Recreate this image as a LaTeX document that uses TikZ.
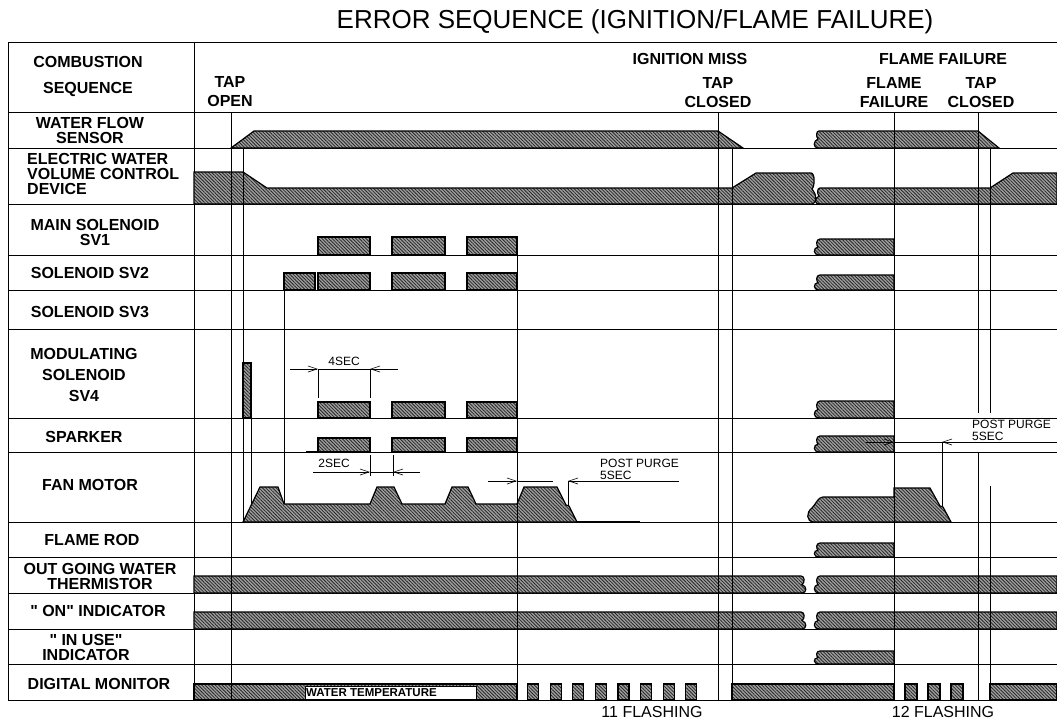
\documentclass[tikz,border=0pt]{standalone}
\usepackage{fontspec}
\setmainfont{Liberation Sans}
\usetikzlibrary{arrows.meta,patterns.meta}
\newcommand\brkL[4]{\draw[sig] ({#1+3},#4) .. controls ({#1-3},#4) and ({#1-3},{#4-0.45*(#4-#2)}) .. ({#1+2},{(#2+#4)/2}) .. controls ({#1},{#4-0.6*(#4-#2)}) and ({#1},#2) .. ({#1+4},#2) -- (#3,#2) -- (#3,#4) -- cycle;}
\newcommand\brkR[4]{\draw[sig] (#1,#2) -- ({#3-3},#2) .. controls ({#3+1},#2) and ({#3+1},{#2+0.4*(#4-#2)}) .. ({#3-2},{(#2+#4)/2}) .. controls ({#3+3},{#2+0.6*(#4-#2)}) and ({#3+3},#4) .. ({#3-2},#4) -- (#1,#4) -- cycle;}
\tikzset{
  grid/.style={line width=0.6pt},
  sig/.style={draw,line width=1.2pt,preaction={fill=black!38},pattern={Lines[angle=-45,distance=2.4pt,line width=0.8pt]},pattern color=black!85},
  lbl/.style={font=\bfseries\fontsize{16}{15}\selectfont,align=center,inner sep=0pt},
  hdr/.style={font=\bfseries\fontsize{16}{19}\selectfont,align=center,inner sep=0pt},
  note/.style={font=\fontsize{12}{12.5}\selectfont,align=left,inner sep=0pt},
  arr/.style={-{Straight Barb[length=9pt,width=6pt]},line width=0.6pt}}
\begin{document}
\begin{tikzpicture}[x=1pt,y=-1pt]
\useasboundingbox (0,0) rectangle (1057,721);
\node[font=\fontsize{26}{26}\selectfont,inner sep=0pt] (title) at (635,22) {ERROR SEQUENCE (IGNITION/FLAME FAILURE)};
\draw[grid] (8,42) -- (1057,42);
\draw[grid] (8,42) -- (8,700) -- (1057,700);
\draw[grid] (194,42) -- (194,700);
\foreach \y in {112,148,204,255,290,329,418,452,522,557,593,629,664}
  \draw[grid] (8,\y) -- (1057,\y);
\node[lbl] (comb) at (88,76) {COMBUSTION\\[11pt]SEQUENCE};
\node[lbl] (wfs) at (90,130) {WATER FLOW\\SENSOR};
\node[lbl,anchor=west,align=left] (ewv) at (27,174) {ELECTRIC WATER\\VOLUME CONTROL\\DEVICE};
\node[lbl] (sv1) at (95,232) {MAIN SOLENOID\\SV1};
\node[lbl] (sv2) at (90,273) {SOLENOID SV2};
\node[lbl] (sv3) at (90,312) {SOLENOID SV3};
\node[lbl] (sv4) at (84,375) {MODULATING\\[6pt]SOLENOID\\[6pt]SV4};
\node[lbl] (spark) at (84,437) {SPARKER};
\node[lbl] (fan) at (90,485) {FAN MOTOR};
\node[lbl] (rod) at (92,540) {FLAME ROD};
\node[lbl] (therm) at (100,576) {OUT GOING WATER\\THERMISTOR};
\node[lbl] (on) at (98,611) {\textquotedbl\ ON\textquotedbl\ INDICATOR};
\node[lbl] (inuse) at (86,647) {\textquotedbl\ IN USE\textquotedbl\\INDICATOR};
\node[lbl] (dig) at (99,684) {DIGITAL MONITOR};
\node[hdr] (tapopen) at (230,92) {TAP\\OPEN};
\node[hdr] (ignmiss) at (690,59) {IGNITION MISS};
\node[hdr] (tapcl) at (718,93) {TAP\\CLOSED};
\node[hdr] (flfail) at (943,59) {FLAME FAILURE};
\node[hdr] (ffail) at (894,93) {FLAME\\FAILURE};
\node[hdr] (tapcl2) at (981,93) {TAP\\CLOSED};
% water flow sensor, water volume device
\draw[sig] (231,148) -- (254,131) -- (718,131) -- (743,148) -- cycle;
\draw[sig] (818,148) .. controls (813,148) and (813,141) .. (818,139) .. controls (816,137) and (816,131) .. (819,131) -- (978,131) -- (999,148) -- cycle;
\draw[sig] (194,172) -- (243,172) -- (267,188) -- (732,188) -- (756,173) -- (811,173) .. controls (815,173) and (815,186) .. (812,189) .. controls (817,194) and (817,204) .. (812,204) -- (194,204) -- cycle;
\draw[sig] (820,204) .. controls (814,204) and (814,199) .. (819,196) .. controls (817,194) and (817,188) .. (820,188) -- (990,188) -- (1013,173) -- (1057,173) -- (1057,204) -- cycle;
% solenoids and sparker
\foreach \x/\w in {318/52,392/53,467/50} {
  \draw[sig] (\x,237) rectangle ++(\w,18);
  \draw[sig] (\x,273) rectangle ++(\w,17);
  \draw[sig] (\x,402) rectangle ++(\w,16);
  \draw[sig] (\x,438) rectangle ++(\w,14);
}
\draw[sig] (284,273) rectangle (315,290);
\draw[sig] (243,363) rectangle (251,418);
\brkL{816}{239}{894}{255}
\brkL{816}{275}{894}{290}
\brkL{816}{401}{894}{418}
\brkL{816}{436}{894}{452}
\brkL{816}{543}{894}{557}
\brkL{816}{651}{894}{664}
% fan motor
\draw[sig] (243,522) -- (260,487) -- (278,487) -- (284,504) -- (370,504) -- (377,487) -- (394,487) -- (402,504) -- (445,504) -- (452,487) -- (468,487) -- (476,504) -- (517,504) -- (524,487) -- (557,487) -- (566,505) -- (569,506) -- (577,522) -- cycle;
\draw[line width=1.2pt] (577,522) -- (640,522) (306,452) -- (318,452);
\draw[sig] (814,522) .. controls (806,522) and (806,512) .. (812,508) .. controls (816,504) and (818,497) .. (823,497) -- (894,497) -- (894,488) -- (930,488) -- (940,506) -- (943,507) -- (951,522) -- cycle;
% thermistor, indicators
\brkR{194}{576}{804}{593}
\brkL{816}{576}{1057}{593}
\brkR{194}{612}{804}{629}
\brkL{816}{612}{1057}{629}
% digital monitor
\draw[sig] (194,684) rectangle (517,700);
\draw[fill=white,line width=1pt] (305,686) rectangle (476,699);
\node[anchor=west,font=\bfseries\fontsize{11.5}{11.5}\selectfont,inner sep=0pt] (wtemp) at (306,692.5) {WATER TEMPERATURE};
\foreach \i in {0,...,7}
  \draw[sig] ({527.5+22.6*\i},684) rectangle ++(11,16);
\draw[sig] (732,684) rectangle (894,700);
\foreach \x in {905,928,951}
  \draw[sig] (\x,684) rectangle ++(12,16);
\draw[sig] (990,684) rectangle (1057,700);
\node[font=\fontsize{16}{16}\selectfont,inner sep=0pt] (fl11) at (652,712) {11 FLASHING};
\node[font=\fontsize{16}{16}\selectfont,inner sep=0pt] (fl12) at (943,712) {12 FLASHING};
% time lines
\draw[grid] (231,112) -- (231,700);
\draw[grid] (243,148) -- (243,522);
\draw[grid] (251,418) -- (251,505);
\draw[grid] (284,290) -- (284,504);
\draw[grid] (517,237) -- (517,700);
\draw[grid] (718,112) -- (718,700);
\draw[grid] (732,148) -- (732,700);
\draw[grid] (894,112) -- (894,700);
\draw[grid] (978,112) -- (978,413) (978,453) -- (978,700);
\draw[grid] (990,148) -- (990,413) (990,486) -- (990,700);
% dimensions
\draw[grid] (318,369) -- (318,398) (370,369) -- (370,398) (318,369) -- (370,369);
\draw[arr] (290,369) -- (318,369);
\draw[arr] (398,369) -- (370,369);
\node[note] (t4) at (344,361) {4SEC};
\draw[grid] (370,455) -- (370,476) (393,455) -- (393,476) (370,472) -- (393,472);
\draw[arr] (313,472) -- (370,472);
\draw[arr] (420,472) -- (393,472);
\node[note] (t2) at (334,463) {2SEC};
\draw[arr] (488,481) -- (517,481);
\draw[grid] (517,481) -- (553,481) (568,481) -- (568,506);
\draw[arr] (679,481) -- (568,481);
\node[note,anchor=south west] (pp1) at (600,480) {POST PURGE\\5SEC};
\draw[grid] (894,442) -- (1057,442) (942,442) -- (942,506);
\draw[arr] (866,442) -- (894,442);
\draw[arr] (985,442) -- (942,442);
\node[note,anchor=south west,fill=white] (pp2) at (972,441) {POST PURGE\\5SEC};
\end{tikzpicture}
\end{document}
